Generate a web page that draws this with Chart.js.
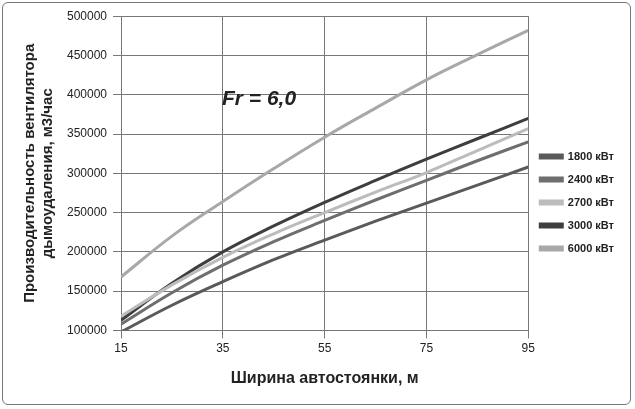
<!DOCTYPE html>
<html><head><meta charset="utf-8">
<script src="https://cdn.jsdelivr.net/npm/chart.js@4/dist/chart.umd.min.js"></script>
<style>
body{margin:0;background:#fff;font-family:"Liberation Sans",Arial,sans-serif}
#wrap{position:absolute;left:2px;top:2px;width:629px;height:403px;border:1px solid #777;border-radius:6px;box-sizing:border-box}
#ann{position:absolute;left:222px;top:86px;font:italic bold 21px "Liberation Sans",Arial;color:#222}
</style></head><body>
<div id="wrap"><canvas id="c" width="627" height="401"></canvas></div>
<div id="ann">Fr = 6,0</div>
<script>
const categories=[15,25,35,45,55,65,75,85,95];
const seriesNames=["1800 кВт","2400 кВт","2700 кВт","3000 кВт","6000 кВт"];
const s1800=[98000,132000,162000,190000,215000,239000,262000,285000,308000];
const s2400=[108000,148000,183000,213000,240000,266000,291000,316000,340000];
const s2700=[118000,158000,193000,223000,250000,276000,301000,329000,357000];
const s3000=[113000,160000,200000,233000,263000,291000,318000,344000,370000];
const s6000=[168000,220000,264000,306000,346000,383000,419000,451000,482000];
const colors=["#5a5a5a","#6e6e6e","#bcbcbc","#3e3e3e","#a8a8a8"];
const vals=[s1800,s2400,s2700,s3000,s6000];
new Chart(document.getElementById('c'),{type:'line',
data:{datasets:vals.map((v,i)=>({label:seriesNames[i],data:v.map((y,j)=>({x:categories[j],y})),borderColor:colors[i],backgroundColor:colors[i],borderWidth:3,pointRadius:0,tension:0.4,fill:false}))},
options:{responsive:false,animation:false,layout:{padding:{top:10,right:6,left:14,bottom:12}},
plugins:{legend:{position:'right',labels:{boxWidth:22,boxHeight:3,font:{size:11,weight:'bold'},color:'#222',padding:12}},tooltip:{enabled:false}},
scales:{x:{type:'linear',min:15,max:95,ticks:{stepSize:20,font:{size:12},color:'#222'},grid:{color:'#777'},border:{color:'#777'},
title:{display:true,text:'Ширина автостоянки, м',font:{size:16,weight:'bold'},color:'#222',padding:{top:10}}},
y:{min:100000,max:500000,ticks:{stepSize:50000,font:{size:12},color:'#222',callback:v=>String(v),padding:6},grid:{color:'#777'},border:{color:'#777'},
title:{display:true,text:['Производительность вентилятора','дымоудаления, м3/час'],font:{size:15,weight:'bold'},color:'#222'}}}}});
</script></body></html>
